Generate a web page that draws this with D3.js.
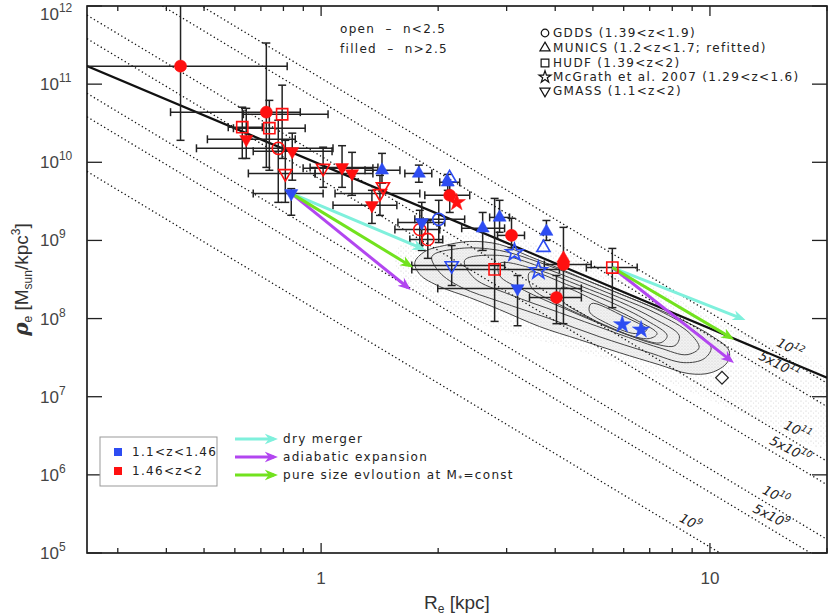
<!DOCTYPE html>
<html lang="en">
<head>
<meta charset="UTF-8">
<title>Effective density vs effective radius</title>
<style>
  body, html { margin: 0; background: #fff; overflow: hidden; }
  text { font-family: "DejaVu Sans", sans-serif; fill: #222; }
  .tick-label { font-family: "Liberation Sans", Arial, sans-serif; font-size: 17px; fill: #444; }
  .axis-title { font-family: "Liberation Sans", Arial, sans-serif; font-size: 19px; fill: #333; }
  .legend { font-size: 12px; letter-spacing: 1.3px; white-space: pre; }
</style>
</head>
<body>
<div id="chart"></div>
<script src="https://d3js.org/d3.v7.min.js"></script>
<script>
const W = 830, H = 615;
const margin = { top: 6, right: 3, bottom: 62, left: 87 };

// axes
const xDomain = [0.25, 20];
const yDomain = [1e5, 1e12];
const yTickPowers = [5, 6, 7, 8, 9, 10, 11, 12];
const xTickLabels = [1, 10];

// constant stellar mass lines (dotted) and their labels
const massLines = [1e9, 5e9, 1e10, 5e10, 1e11, 5e11, 1e12];
const massLabelR = [8.8, 14.2, 14.6, 15.9, 16.6, 14.9, 15.9];
const massLabelText = [["10", "9"], ["5x10", "9"], ["10", "10"], ["5x10", "10"], ["10", "11"], ["5x10", "11"], ["10", "12"]];

// local relation (solid line)
const fitLine = [[0.25, 1.7e11], [20, 1.75e7]];

// columns: R_e, rho_e, R_lo, R_hi, rho_lo, rho_hi, zbin, filled (n>2.5)
const gddsPoints = [
  [0.435, 1.70e11, 0.2, 0.818, 1.91e10, 3e12, "hi", true],
  [0.723, 4.38e10, 0.410, 0.884, 8.6e9, 3.36e11, "hi", true],
  [0.776, 1.51e10, 0.478, 1.073, 3.07e9, 3.45e10, "hi", false],
  [2.142, 3.78e9, 1.848, 2.411, 2.28e9, 5.07e9, "hi", true],
  [2.007, 1.86e9, 1.742, 2.34, 9.4e8, 3.26e9, "lo", false],
  [1.794, 1.38e9, 1.548, 2.019, 8.6e8, 2.43e9, "hi", false],
  [1.881, 1.03e9, 1.691, 2.055, 5.9e8, 1.80e9, "hi", false],
  [3.088, 1.16e9, 2.843, 3.335, 8.1e8, 1.92e9, "hi", true],
  [4.2, 4.92e8, 3.75, 4.95, 8.6e7, 1.47e9, "hi", true],
  [4.03, 1.86e8, 3.435, 4.67, 8.6e7, 3.56e8, "hi", true]
];
const municsPoints = [
  [1.434, 7.9e9, 1.297, 1.595, 5.4e9, 1.30e10, "lo", true],
  [1.784, 7.2e9, 1.642, 1.926, 5.55e9, 9.2e9, "lo", true],
  [2.117, 5.55e9, 2.019, 2.272, 4.38e9, 7.0e9, "lo", true],
  [2.14, 6.3e9, null, null, null, null, "lo", false],
  [2.603, 1.43e9, 2.299, 2.964, 7.45e8, 2.28e9, "lo", true],
  [2.877, 1.97e9, 2.713, 3.052, 1.27e9, 3.26e9, "lo", true],
  [3.797, 1.30e9, null, null, 1.0e9, 1.80e9, "lo", true],
  [3.73, 8.1e8, null, null, null, null, "lo", false],
  [4.2, 5.9e8, null, null, null, null, "hi", true]
];
const hudfPoints = [
  [0.794, 4.12e10, 0.631, 1.042, 1.12e10, 9.7e10, "hi", false],
  [0.627, 2.81e10, 0.577, 0.706, 1.12e10, 5.07e10, "hi", false],
  [0.736, 2.73e10, 0.595, 0.910, 7.9e9, 6.2e10, "hi", false],
  [2.794, 4.25e8, 1.711, 4.101, 9.2e7, 3.45e9, "hi", false],
  [5.61, 4.5e8, 4.81, 6.5, 1.38e8, 7.9e8, "hi", false]
];
const mcgrathPoints = [
  [2.232, 3.07e9, null, null, null, null, "hi", true],
  [3.143, 7.0e8, null, null, null, null, "lo", false],
  [3.62, 4.12e8, null, null, null, null, "lo", false],
  [5.95, 8.4e7, null, null, null, null, "lo", true],
  [6.65, 7.2e7, null, null, null, null, "lo", true]
];
const gmassPoints = [
  [0.642, 1.97e10, 0.51, 0.858, 1.12e10, 4.9e10, "hi", true],
  [0.843, 1.38e10, 0.669, 1.067, 5.9e9, 2.36e10, "hi", true],
  [0.809, 7.2e9, 0.650, 0.965, 3.07e9, 1.91e10, "hi", false],
  [0.838, 4.0e9, 0.669, 1.012, 2.1e9, 4.6e9, "lo", true],
  [1.012, 8.4e9, 0.899, 1.359, 4.78e9, 1.56e10, "hi", false],
  [1.132, 8.6e9, 0.937, 1.40, 4.78e9, 1.63e10, "hi", true],
  [1.201, 7.2e9, 0.965, 1.359, 3.78e9, 1.34e10, "hi", true],
  [1.417, 4.0e9, 1.086, 1.794, 2.09e9, 6.8e9, "hi", false],
  [1.442, 4.9e9, null, null, null, null, "hi", false],
  [1.351, 2.81e9, 1.073, 1.566, 1.65e9, 4.38e9, "hi", true],
  [1.815, 1.70e9, 1.576, 2.08, 7.45e8, 3.07e9, "lo", true],
  [2.167, 4.78e8, 1.711, 2.964, 2.65e8, 8.6e8, "lo", false],
  [3.20, 2.43e8, 1.995, 4.67, 8.1e7, 3.56e8, "lo", true]
];
const sdssMedian = [[10.74, 1.75e7]];

// evolution arrows: start points and end points for each scenario
const arrowStarts = [[0.838, 4.0e9], [5.61, 4.5e8]];
const dryMergerEnds = [[1.815, 7.9e8], [12.08, 1.0e8]];
const adiabaticEnds = [[1.671, 2.5e8], [11.32, 2.9e7]];
const pureSizeEnds = [[1.691, 4.78e8], [11.32, 5.7e7]];

// local sample: extent of the point cloud and density contours, [log10 R_e, log10 rho_e]
const cloudOutline = [[0.203, 8.936], [0.279, 9.026], [0.408, 9.103], [0.613, 8.872], [0.844, 8.423], [1.074, 7.846], [1.297, 7.333], [1.297, 6.372], [1.126, 6.692], [0.972, 7.013], [0.818, 7.333], [0.613, 7.654], [0.459, 7.846], [0.331, 8.103], [0.228, 8.423], [0.190, 8.718]];
const contourLevels = [
  [[0.241, 8.718], [0.267, 8.859], [0.318, 8.936], [0.382, 8.987], [0.459, 8.949], [0.536, 8.795], [0.613, 8.641], [0.715, 8.423], [0.818, 8.218], [0.921, 8.0], [1.003, 7.782], [1.049, 7.590], [1.044, 7.436], [1.003, 7.308], [0.946, 7.295], [0.869, 7.410], [0.767, 7.564], [0.664, 7.731], [0.562, 7.897], [0.459, 8.115], [0.382, 8.269], [0.305, 8.410], [0.254, 8.564]],
  [[0.285, 8.795], [0.356, 8.897], [0.459, 8.872], [0.562, 8.718], [0.664, 8.526], [0.767, 8.321], [0.869, 8.103], [0.959, 7.846], [1.003, 7.628], [0.985, 7.487], [0.933, 7.436], [0.844, 7.564], [0.715, 7.769], [0.587, 8.0], [0.459, 8.218], [0.362, 8.397], [0.305, 8.590]],
  [[0.369, 8.744], [0.459, 8.808], [0.562, 8.667], [0.664, 8.474], [0.767, 8.269], [0.869, 8.051], [0.946, 7.821], [0.972, 7.628], [0.941, 7.538], [0.869, 7.628], [0.741, 7.846], [0.613, 8.077], [0.485, 8.308], [0.395, 8.513]],
  [[0.459, 8.705], [0.562, 8.615], [0.664, 8.423], [0.767, 8.218], [0.856, 8.0], [0.921, 7.782], [0.910, 7.654], [0.856, 7.679], [0.741, 7.885], [0.626, 8.128], [0.523, 8.359], [0.459, 8.551]],
  [[0.536, 8.590], [0.638, 8.423], [0.741, 8.218], [0.838, 7.974], [0.890, 7.782], [0.874, 7.692], [0.818, 7.744], [0.715, 7.949], [0.613, 8.179], [0.541, 8.397]],
  [[0.618, 8.397], [0.715, 8.205], [0.813, 7.974], [0.864, 7.808], [0.844, 7.744], [0.772, 7.821], [0.685, 8.026], [0.618, 8.244]],
  [[0.695, 8.192], [0.779, 8.026], [0.838, 7.859], [0.808, 7.808], [0.731, 7.949], [0.690, 8.090]]
];

const surveyLegend = [
  ["gdds", "GDDS (1.39<z<1.9)"],
  ["munics", "MUNICS (1.2<z<1.7; refitted)"],
  ["hudf", "HUDF (1.39<z<2)"],
  ["mcgrath", "McGrath et al. 2007 (1.29<z<1.6)"],
  ["gmass", "GMASS (1.1<z<2)"]
];
const zLegend = [["lo", "1.1<z<1.46"], ["hi", "1.46<z<2"]];

const zColor = { lo: "#2d4cf2", hi: "#ff1010" };
const arrowColor = { dry: "#7ff0dc", adiabatic: "#b246f0", pure: "#72e21e" };

const svg = d3.select("#chart").append("svg")
  .attr("width", W).attr("height", H);

const x = d3.scaleLog().domain(xDomain).range([margin.left, W - margin.right]);
const y = d3.scaleLog().domain(yDomain).range([H - margin.bottom, margin.top]);
const x0 = margin.left, x1 = W - margin.right, y0 = H - margin.bottom, y1 = margin.top;

const defs = svg.append("defs");
defs.append("clipPath").attr("id", "plot-clip")
  .append("rect").attr("x", x0).attr("y", y1).attr("width", x1 - x0).attr("height", y0 - y1);

// stipple patterns for the local sample
const pSparse = defs.append("pattern").attr("id", "dots-sparse")
  .attr("width", 5).attr("height", 5).attr("patternUnits", "userSpaceOnUse");
pSparse.append("circle").attr("cx", 1).attr("cy", 1).attr("r", 0.55).attr("fill", "#c4c4c4");
pSparse.append("circle").attr("cx", 3.5).attr("cy", 3).attr("r", 0.5).attr("fill", "#d4d4d4");
const pDense = defs.append("pattern").attr("id", "dots-dense")
  .attr("width", 3).attr("height", 3).attr("patternUnits", "userSpaceOnUse");
pDense.append("rect").attr("width", 3).attr("height", 3).attr("fill", "#f2f2f2");
pDense.append("circle").attr("cx", 1).attr("cy", 1).attr("r", 0.5).attr("fill", "#c0c0c0");
pDense.append("circle").attr("cx", 2.4).attr("cy", 2.2).attr("r", 0.4).attr("fill", "#d6d6d6");

Object.entries(arrowColor).forEach(([k, c]) => {
  defs.append("marker").attr("id", "head-" + k)
    .attr("viewBox", "0 0 10 10").attr("refX", 7).attr("refY", 5)
    .attr("markerWidth", 13).attr("markerHeight", 13)
    .attr("markerUnits", "userSpaceOnUse").attr("orient", "auto")
    .append("path").attr("d", "M0,1 L10,5 L0,9 L3,5 z").attr("fill", c);
});

const plot = svg.append("g").attr("clip-path", "url(#plot-clip)");

// local sample cloud and contours
const logLine = d3.line()
  .x(d => x(Math.pow(10, d[0])))
  .y(d => y(Math.pow(10, d[1])))
  .curve(d3.curveCatmullRomClosed.alpha(0.5));

plot.append("path").attr("d", logLine(cloudOutline))
  .attr("fill", "url(#dots-sparse)").attr("stroke", "none");

plot.selectAll(".contour").data(contourLevels).enter().append("path")
  .attr("class", "contour")
  .attr("d", d => logLine(d))
  .attr("fill", (d, i) => i === 0 ? "url(#dots-dense)" : "none")
  .attr("stroke", "#444").attr("stroke-width", 1);

// constant mass lines: rho_e = M / (2 * 4/3 pi R_e^3)
const rhoAt = (M, R) => M / (8 * Math.PI / 3 * Math.pow(R, 3));
plot.selectAll(".mass-line").data(massLines).enter().append("line")
  .attr("class", "mass-line")
  .attr("x1", x(xDomain[0])).attr("y1", M => y(rhoAt(M, xDomain[0])))
  .attr("x2", x(xDomain[1])).attr("y2", M => y(rhoAt(M, xDomain[1])))
  .attr("stroke", "#111").attr("stroke-width", 1.3)
  .attr("stroke-dasharray", "1.3,2.7");

plot.append("line")
  .attr("x1", x(fitLine[0][0])).attr("y1", y(fitLine[0][1]))
  .attr("x2", x(fitLine[1][0])).attr("y2", y(fitLine[1][1]))
  .attr("stroke", "#111").attr("stroke-width", 2.2);

// mass labels
massLines.forEach((M, i) => {
  const R = massLabelR[i];
  const t = plot.append("text")
    .attr("transform", `translate(${x(R)},${y(rhoAt(M, R)) - 8}) rotate(27)`)
    .attr("text-anchor", "middle")
    .attr("font-size", 13).attr("font-style", "italic").attr("fill", "#111");
  t.append("tspan").text(massLabelText[i][0]);
  t.append("tspan").attr("dy", -6).attr("font-size", 9).text(massLabelText[i][1]);
});

// error bars
const allSurveys = [
  ["gdds", gddsPoints], ["munics", municsPoints], ["hudf", hudfPoints],
  ["mcgrath", mcgrathPoints], ["gmass", gmassPoints]
];
const cap = 4;
const errG = plot.append("g").attr("stroke", "#222").attr("stroke-width", 1.5);
allSurveys.forEach(([name, rows]) => {
  rows.forEach(r => {
    const px = x(r[0]), py = y(r[1]);
    if (r[2] !== null) {
      const xa = x(r[2]), xb = x(r[3]);
      errG.append("line").attr("x1", xa).attr("x2", xb).attr("y1", py).attr("y2", py);
      errG.append("line").attr("x1", xa).attr("x2", xa).attr("y1", py - cap).attr("y2", py + cap);
      errG.append("line").attr("x1", xb).attr("x2", xb).attr("y1", py - cap).attr("y2", py + cap);
    }
    if (r[4] !== null) {
      const ya = y(r[4]), yb = y(r[5]);
      errG.append("line").attr("x1", px).attr("x2", px).attr("y1", ya).attr("y2", yb);
      errG.append("line").attr("x1", px - cap).attr("x2", px + cap).attr("y1", ya).attr("y2", ya);
      errG.append("line").attr("x1", px - cap).attr("x2", px + cap).attr("y1", yb).attr("y2", yb);
    }
  });
});

// evolution arrows
const arrowSets = [["dry", dryMergerEnds], ["adiabatic", adiabaticEnds], ["pure", pureSizeEnds]];
arrowSets.forEach(([k, ends]) => {
  ends.forEach((e, i) => {
    plot.append("line")
      .attr("x1", x(arrowStarts[i][0])).attr("y1", y(arrowStarts[i][1]))
      .attr("x2", x(e[0])).attr("y2", y(e[1]))
      .attr("stroke", arrowColor[k]).attr("stroke-width", 3)
      .attr("marker-end", `url(#head-${k})`);
  });
});

// markers
const shapeOf = {
  gdds: d3.symbolCircle, munics: d3.symbolTriangle, hudf: d3.symbolSquare,
  mcgrath: d3.symbolStar, gmass: d3.symbolTriangle
};
const sizeOf = { gdds: 115, munics: 75, hudf: 125, mcgrath: 95, gmass: 75 };
allSurveys.forEach(([name, rows]) => {
  plot.selectAll(".m-" + name).data(rows).enter().append("path")
    .attr("class", "m-" + name)
    .attr("d", d3.symbol().type(shapeOf[name]).size(sizeOf[name]))
    .attr("transform", d => `translate(${x(d[0])},${y(d[1])})` + (name === "gmass" ? " rotate(180)" : ""))
    .attr("fill", d => d[7] ? zColor[d[6]] : "none")
    .attr("stroke", d => zColor[d[6]])
    .attr("stroke-width", d => d[7] ? 0.5 : 1.6);
});
plot.selectAll(".m-sdss").data(sdssMedian).enter().append("path")
  .attr("d", d3.symbol().type(d3.symbolSquare).size(80))
  .attr("transform", d => `translate(${x(d[0])},${y(d[1])}) rotate(45)`)
  .attr("fill", "#fff").attr("stroke", "#222").attr("stroke-width", 1.2);

// frame and ticks
svg.append("rect").attr("x", x0).attr("y", y1).attr("width", x1 - x0).attr("height", y0 - y1)
  .attr("fill", "none").attr("stroke", "#111").attr("stroke-width", 1.6);

const ticksG = svg.append("g").attr("stroke", "#222").attr("stroke-width", 1.3);
x.ticks().forEach(v => {
  const major = Math.abs(Math.log10(v) - Math.round(Math.log10(v))) < 1e-6;
  const len = major ? 10 : 5;
  ticksG.append("line").attr("x1", x(v)).attr("x2", x(v)).attr("y1", y0).attr("y2", y0 - len);
  ticksG.append("line").attr("x1", x(v)).attr("x2", x(v)).attr("y1", y1).attr("y2", y1 + len);
});
yTickPowers.forEach(p => {
  const v = Math.pow(10, p);
  ticksG.append("line").attr("x1", x0).attr("x2", x0 + 15).attr("y1", y(v)).attr("y2", y(v));
  ticksG.append("line").attr("x1", x1).attr("x2", x1 - 15).attr("y1", y(v)).attr("y2", y(v));
});

// tick labels
yTickPowers.forEach(p => {
  const yy = Math.max(y(Math.pow(10, p)) + 6, 20);
  const t = svg.append("text").attr("class", "tick-label")
    .attr("x", 40).attr("y", yy).attr("font-size", 18);
  t.append("tspan").text("10");
  t.append("tspan").attr("dy", -8).attr("font-size", 12).text(p);
});
xTickLabels.forEach(v => {
  svg.append("text").attr("class", "tick-label")
    .attr("x", x(v)).attr("y", 584).attr("font-size", 18).attr("text-anchor", "middle").text(v);
});

// axis titles
const xt = svg.append("text").attr("class", "axis-title")
  .attr("x", (x0 + x1) / 2).attr("y", 609).attr("text-anchor", "middle");
xt.append("tspan").text("R");
xt.append("tspan").attr("dy", 4).attr("font-size", 12).text("e");
xt.append("tspan").attr("dy", -4).text(" [kpc]");

const yt = svg.append("text").attr("class", "axis-title")
  .attr("transform", `translate(28,${(y0 + y1) / 2}) rotate(-90)`).attr("text-anchor", "middle");
yt.append("tspan").attr("font-style", "italic").attr("font-weight", "bold")
  .attr("font-family", "DejaVu Serif").attr("font-size", 20).text("ρ");
yt.append("tspan").attr("dy", 4).attr("font-size", 12).text("e");
yt.append("tspan").attr("dy", -4).text(" [M");
yt.append("tspan").attr("dy", 4).attr("font-size", 12).text("sun");
yt.append("tspan").attr("dy", -4).text("/kpc");
yt.append("tspan").attr("dy", -8).attr("font-size", 12).text("3");
yt.append("tspan").attr("dy", 8).text("]");

// morphology note
svg.append("text").attr("class", "legend").attr("x", 340).attr("y", 33).text("open  \u2013  n<2.5");
svg.append("text").attr("class", "legend").attr("x", 340).attr("y", 53).text("filled  \u2013  n>2.5");

// survey legend
const legY = [33, 48, 63, 77, 91];
surveyLegend.forEach(([name, label], i) => {
  svg.append("path")
    .attr("d", d3.symbol().type(shapeOf[name]).size(name === "hudf" ? 60 : 45)())
    .attr("transform", `translate(545,${legY[i]})` + (name === "gmass" ? " rotate(180)" : ""))
    .attr("fill", "none").attr("stroke", "#111").attr("stroke-width", 1.2);
  svg.append("text").attr("class", "legend").attr("x", 553).attr("y", legY[i] + 4).text(label);
});

// redshift legend box
svg.append("rect").attr("x", 100).attr("y", 437).attr("width", 117).attr("height", 49)
  .attr("fill", "#fff").attr("stroke", "#999").attr("stroke-width", 1);
zLegend.forEach(([k, label], i) => {
  const yy = 452 + i * 19;
  svg.append("rect").attr("x", 114).attr("y", yy - 4).attr("width", 8).attr("height", 8).attr("fill", zColor[k]);
  svg.append("text").attr("class", "legend").attr("x", 132).attr("y", yy + 4).text(label);
});

// arrow legend
const arrowLegend = [["dry", "dry merger"], ["adiabatic", "adiabatic expansion"], ["pure", "pure size evloution at M"]];
arrowLegend.forEach(([k, label], i) => {
  const yy = 439 + i * 18;
  svg.append("line").attr("x1", 235).attr("x2", 274).attr("y1", yy).attr("y2", yy)
    .attr("stroke", arrowColor[k]).attr("stroke-width", 3).attr("marker-end", `url(#head-${k})`);
  const t = svg.append("text").attr("class", "legend").attr("x", 283).attr("y", yy + 4);
  t.append("tspan").text(label);
  if (k === "pure") {
    t.append("tspan").attr("dy", 3).attr("font-size", 8).text("*");
    t.append("tspan").attr("dy", -3).text("=const");
  }
});
</script>
</body>
</html>
